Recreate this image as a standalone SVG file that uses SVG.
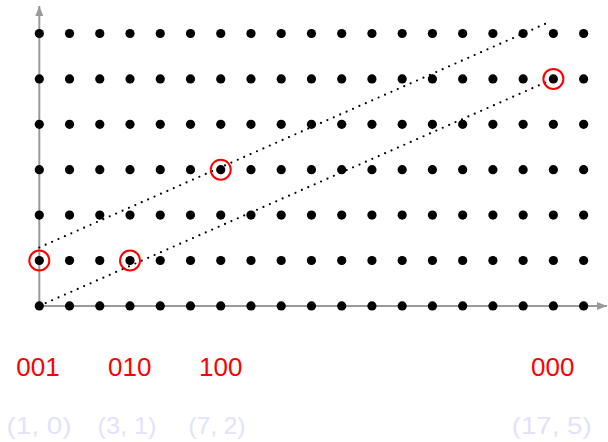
<svg xmlns="http://www.w3.org/2000/svg" xmlns:xlink="http://www.w3.org/1999/xlink" width="608" height="442" viewBox="0 0 608 442">
<style>
.dot{fill:#000}
.axis{stroke:#9a9a9a;stroke-width:2;fill:none}
.dotted{stroke:#000;stroke-width:2.2;stroke-linecap:round;stroke-dasharray:0 7;fill:none}
.mark{fill:none;stroke:#ff0000;stroke-width:2}
.code{font-family:"Liberation Sans",Arial,sans-serif;font-size:26px;fill:#ff0000;text-anchor:middle}
.coord{font-family:"Liberation Sans",Arial,sans-serif;font-size:24px;fill:#e2e2fc;text-anchor:middle}
</style>
<defs>
<marker id="arr" viewBox="0 0 10 10" refX="10" refY="5" markerWidth="10" markerHeight="10" markerUnits="userSpaceOnUse" orient="auto">
<path d="M0,1 L10,5 L0,9 Z" fill="#9a9a9a"/>
</marker>
<g id="row">
<circle class="dot" cx="39.3" cy="0" r="4.6"/>
<circle class="dot" cx="69.54" cy="0" r="4.6"/>
<circle class="dot" cx="99.78" cy="0" r="4.6"/>
<circle class="dot" cx="130.02" cy="0" r="4.6"/>
<circle class="dot" cx="160.26" cy="0" r="4.6"/>
<circle class="dot" cx="190.5" cy="0" r="4.6"/>
<circle class="dot" cx="220.74" cy="0" r="4.6"/>
<circle class="dot" cx="250.98" cy="0" r="4.6"/>
<circle class="dot" cx="281.22" cy="0" r="4.6"/>
<circle class="dot" cx="311.46" cy="0" r="4.6"/>
<circle class="dot" cx="341.7" cy="0" r="4.6"/>
<circle class="dot" cx="371.94" cy="0" r="4.6"/>
<circle class="dot" cx="402.18" cy="0" r="4.6"/>
<circle class="dot" cx="432.42" cy="0" r="4.6"/>
<circle class="dot" cx="462.66" cy="0" r="4.6"/>
<circle class="dot" cx="492.9" cy="0" r="4.6"/>
<circle class="dot" cx="523.14" cy="0" r="4.6"/>
<circle class="dot" cx="553.38" cy="0" r="4.6"/>
<circle class="dot" cx="583.62" cy="0" r="4.6"/>
</g>
</defs>
<g id="axes">
<line class="axis" x1="39.3" y1="305.9" x2="39.3" y2="6" marker-end="url(#arr)"/>
<line class="axis" x1="39.3" y1="305.9" x2="607" y2="305.9" marker-end="url(#arr)"/>
</g>
<g id="connectors">
<line class="dotted" x1="39.3" y1="305.9" x2="553.4" y2="78.9"/>
<line class="dotted" x1="39.3" y1="247.5" x2="550" y2="21.7"/>
</g>
<g id="grid">
<use xlink:href="#row" href="#row" y="33.5"/>
<use xlink:href="#row" href="#row" y="78.9"/>
<use xlink:href="#row" href="#row" y="124.3"/>
<use xlink:href="#row" href="#row" y="169.7"/>
<use xlink:href="#row" href="#row" y="215.1"/>
<use xlink:href="#row" href="#row" y="260.5"/>
<use xlink:href="#row" href="#row" y="305.9"/>
</g>
<g id="p001">
<circle class="mark" cx="39.3" cy="260.5" r="10"/>
<text class="code" x="38" y="376">001</text>
<text class="coord" x="39" y="434" textLength="65" lengthAdjust="spacingAndGlyphs">(1, 0)</text>
</g>
<g id="p010">
<circle class="mark" cx="130.02" cy="260.5" r="10"/>
<text class="code" x="129.7" y="376">010</text>
<text class="coord" x="127" y="434" textLength="59" lengthAdjust="spacingAndGlyphs">(3, 1)</text>
</g>
<g id="p100">
<circle class="mark" cx="220.74" cy="169.7" r="10"/>
<text class="code" x="220.7" y="376">100</text>
<text class="coord" x="217" y="434" textLength="57" lengthAdjust="spacingAndGlyphs">(7, 2)</text>
</g>
<g id="p000">
<circle class="mark" cx="553.38" cy="78.9" r="10"/>
<text class="code" x="552.8" y="376">000</text>
<text class="coord" x="551.7" y="434" textLength="80" lengthAdjust="spacingAndGlyphs">(17, 5)</text>
</g>
</svg>
